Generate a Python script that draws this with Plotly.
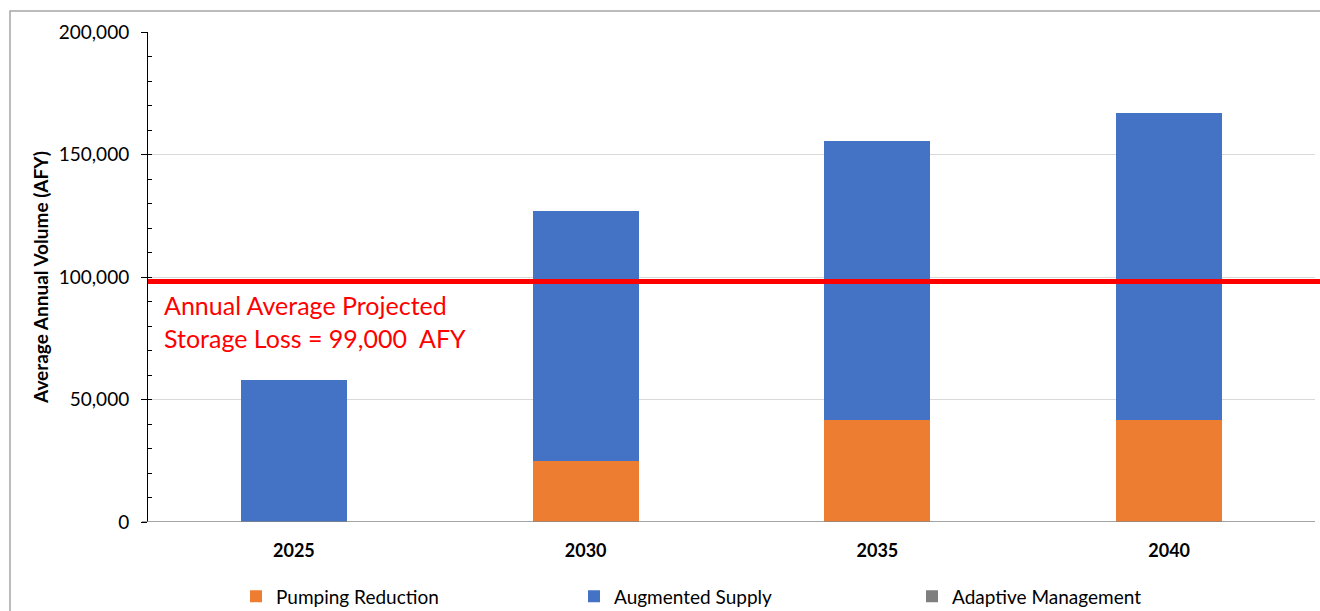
import plotly.graph_objects as go

years = ["2025", "2030", "2035", "2040"]
pumping_reduction = [0, 25000, 41700, 41700]
augmented_supply = [58000, 102000, 113900, 125400]
adaptive_management = [0, 0, 0, 0]
storage_loss_line = 98200
y_ticks = [0, 50000, 100000, 150000, 200000]
y_tick_labels = ["0", "50,000", "100,000", "150,000", "200,000"]

FONT = "Lato"

fig = go.Figure()
fig.add_trace(go.Bar(name="Pumping Reduction", x=years, y=pumping_reduction,
                     marker=dict(color="#ED7D31", line=dict(width=0))))
fig.add_trace(go.Bar(name="Augmented Supply", x=years, y=augmented_supply,
                     marker=dict(color="#4472C4", line=dict(width=0))))
fig.add_trace(go.Bar(name="Adaptive Management", x=years, y=adaptive_management,
                     marker=dict(color="#7F7F7F", line=dict(width=0))))

# minor tick overlay axis
fig.add_trace(go.Scatter(x=years, y=[None]*4, yaxis="y2", showlegend=False,
                         hoverinfo="skip", mode="markers"))

L, R, T, B = 148, 5, 32, 88.5
W, H = 1320, 611
pw = W - L - R
ph = H - T - B

fig.update_layout(
    width=W, height=H,
    margin=dict(l=L, r=R, t=T, b=B, pad=0, autoexpand=False),
    paper_bgcolor="white", plot_bgcolor="white",
    barmode="stack", bargap=0.637,
    font=dict(family=FONT, color="#000000"),
    showlegend=True,
    legend=dict(orientation="h", x=(236 - L) / pw, xanchor="left",
                y=(H - B - 597) / ph, yanchor="middle",
                font=dict(family=FONT, size=19, color="#000000"),
                entrywidth=293, entrywidthmode="pixels",
                itemwidth=30, traceorder="normal",
                bgcolor="rgba(0,0,0,0)"),
    xaxis=dict(type="category", showgrid=False, showline=False, ticks="",
               tickfont=dict(family=FONT, size=18, color="#000000", weight="bold"),
               ticklabelstandoff=16, zeroline=False, fixedrange=True),
    yaxis=dict(range=[0, 200000], tickvals=y_ticks, ticktext=y_tick_labels,
               showgrid=True, gridcolor="#D9D9D9", gridwidth=1,
               showline=True, linecolor="#000000", linewidth=1,
               ticks="outside", ticklen=6, tickcolor="#000000",
               tickfont=dict(family=FONT, size=19, color="#000000"),
               ticklabelstandoff=8, zeroline=False,
               title=dict(text="Average Annual Volume (AFY)",
                          font=dict(family=FONT, size=19, color="#000000", weight="bold"),
                          standoff=5)),
    yaxis2=dict(range=[0, 200000], overlaying="y", side="left", dtick=10000,
                ticks="inside", ticklen=4, tickcolor="#000000",
                showticklabels=False, showgrid=False, showline=False, zeroline=False),
)

# zero axis line
fig.add_shape(type="line", xref="paper", yref="y", x0=-6 / pw, x1=1, y0=0, y1=0,
              line=dict(color="#868686", width=1.5), layer="above")

# red storage loss line
fig.add_shape(type="line", xref="paper", yref="y", x0=0, x1=(W - L) / pw,
              y0=storage_loss_line, y1=storage_loss_line,
              line=dict(color="#FF0000", width=5), layer="above")

fig.add_annotation(xref="paper", yref="paper", x=(162 - L) / pw,
                   y=(H - B - 288) / ph, xanchor="left", yanchor="top",
                   text="Annual Average Projected<br>Storage Loss = 99,000  AFY",
                   showarrow=False, align="left",
                   font=dict(family=FONT, size=25, color="#FF0000"))

# outer frame
fig.add_shape(type="rect", xref="paper", yref="paper",
              x0=(10 - L) / pw, x1=(W + 20 - L) / pw,
              y0=-(B + 20) / ph, y1=(H - B - 11) / ph,
              line=dict(color="#A6A6A6", width=1.5), layer="below")

fig.write_html("out.html", config={"displayModeBar": False},
               post_script="document.body.style.margin='0px';document.body.style.overflow='hidden';")
